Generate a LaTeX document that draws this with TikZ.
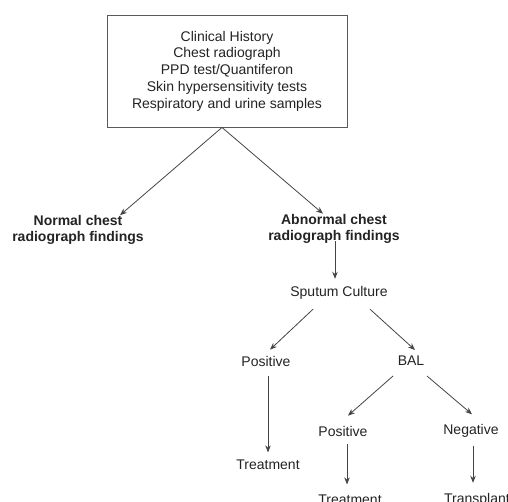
\documentclass[tikz,border=0pt]{standalone}
\usepackage{fontspec}
\setmainfont{Liberation Sans}
\usetikzlibrary{arrows.meta}
\definecolor{ink}{RGB}{35,35,35}
\tikzset{
  >={Stealth[length=7pt,width=5.5pt]},
  flow/.style={->,draw=#1,line width=0.8pt},
  flow/.default=ink!85,
  panel/.style={draw=ink!75,line width=0.9pt,minimum width=240pt,minimum height=112pt,
    align=center,text=ink,font=\fontsize{14}{16.8}\selectfont},
  finding/.style={align=center,text=ink,inner sep=2pt,font=\fontsize{14}{16}\selectfont\bfseries},
  result/.style={text=ink,inner sep=2pt,font=\fontsize{14}{16.8}\selectfont},
}
\begin{document}
\begin{tikzpicture}[x=1pt,y=-1pt]
  \useasboundingbox (0,0) rectangle (508,502);
  \node[panel] (workup) at (227,71) {Clinical History\\Chest radiograph\\PPD test/Quantiferon\\Skin hypersensitivity tests\\Respiratory and urine samples};
  \node[finding] (normal) at (78,230) {Normal chest\\radiograph findings};
  \node[finding] (abnormal) at (334,228.5) {Abnormal chest\\radiograph findings};
  \node[result] (sputum) at (339,292.5) {Sputum Culture};
  \node[result] (pos1) at (266,361) {Positive};
  \node[result] (bal) at (411,361) {BAL};
  \node[result] (treat1) at (268,464.5) {Treatment};
  \node[result] (pos2) at (343,431) {Positive};
  \node[result] (neg) at (471,431) {Negative};
  \node[result] (treat2) at (350,499.5) {Treatment};
  \node[result] (transplant) at (477,499.5) {Transplant};
  % first split
  \draw[flow] ([xshift=-5pt]workup.south) -- ([xshift=42pt,yshift=-2pt]normal.north);
  \draw[flow] ([xshift=-5pt]workup.south) -- ([xshift=-11pt,yshift=-2pt]abnormal.north);
  \draw[flow] ([xshift=1pt,yshift=4pt]abnormal.south) -- ([xshift=-4pt,yshift=5pt]sputum.north);
  % sputum culture
  \draw[flow] ([xshift=-26pt,yshift=-8pt]sputum.south) -- ([xshift=4pt,yshift=4pt]pos1.north);
  \draw[flow] ([xshift=31pt,yshift=-8pt]sputum.south) -- ([xshift=4pt,yshift=4pt]bal.north);
  \draw[flow] ([xshift=2pt,yshift=-8pt]pos1.south) -- ([yshift=5pt]treat1.north);
  % BAL
  \draw[flow] ([xshift=-18pt,yshift=-8pt]bal.south) -- ([xshift=5pt,yshift=8pt]pos2.north);
  \draw[flow] ([xshift=16pt,yshift=-8pt]bal.south) -- ([xshift=1pt,yshift=8pt]neg.north);
  \draw[flow] ([xshift=4pt,yshift=-6pt]pos2.south) -- ([xshift=-3pt,yshift=8pt]treat2.north);
  \draw[flow] ([xshift=2pt,yshift=-6pt]neg.south) -- ([xshift=-4pt,yshift=8pt]transplant.north);
\end{tikzpicture}
\end{document}
